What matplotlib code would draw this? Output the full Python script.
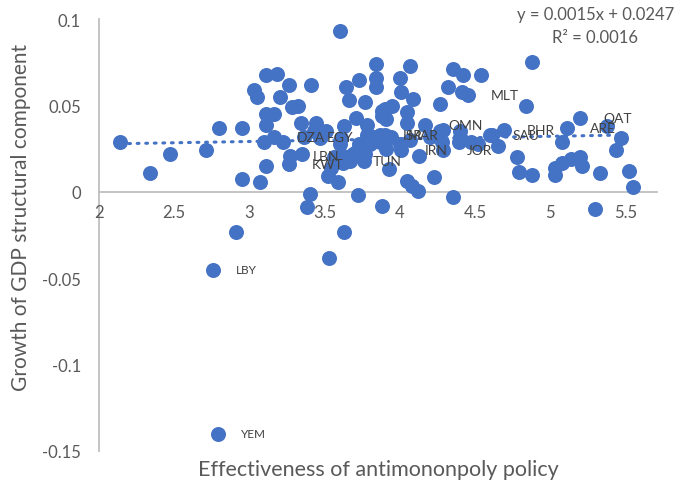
import matplotlib
matplotlib.use("Agg")

import numpy as np
import matplotlib.pyplot as plt

# unlabeled country points: effectiveness of antimonopoly policy vs growth of GDP structural component
px = [2.14, 2.34, 2.47, 2.71, 2.80, 2.95, 2.95, 3.07, 3.11, 2.91,
      3.03, 3.05, 3.11, 3.18, 3.26, 3.20, 3.11, 3.16, 3.11, 3.10,
      3.22, 3.35, 3.28, 3.32, 3.34, 3.44, 3.41, 3.51, 3.63, 3.40,
      3.38, 3.63, 3.72, 3.53, 3.52, 3.59, 3.54, 3.62, 3.71, 3.77,
      3.71, 3.77, 3.66, 3.64, 3.73, 3.84, 3.84, 3.84, 3.78, 3.81,
      3.60, 3.88, 4.07, 4.00, 4.01, 4.09, 3.95, 3.90, 4.05, 3.88,
      3.91, 4.05, 4.35, 4.42, 4.54, 4.32, 4.41, 4.27, 4.29, 4.40,
      4.61, 4.88, 4.84, 5.38, 4.78, 4.79, 4.88, 5.08, 5.03, 5.03,
      5.08, 5.14, 5.20, 5.21, 5.33, 5.30, 5.47, 5.44, 5.52, 5.55,
      3.93, 4.05, 4.08, 4.12, 4.23, 4.35, 3.88, 4.13, 4.40, 4.47,
      4.52, 4.65, 4.20, 4.27, 3.82, 3.87, 3.91, 4.00, 3.94, 4.07,
      3.80, 3.61, 3.60, 3.56, 3.62, 3.69, 3.73, 3.78, 3.76, 3.47,
      3.43, 4.28, 4.39]
py = [0.029, 0.011, 0.022, 0.024, 0.037, 0.037, 0.0075, 0.006, 0.015, -0.023,
      0.059, 0.055, 0.0675, 0.068, 0.062, 0.055, 0.045, 0.045, 0.039, 0.029,
      0.029, 0.022, 0.049, 0.050, 0.040, 0.040, 0.062, 0.035, 0.038, -0.001,
      -0.009, -0.023, -0.002, -0.038, 0.009, 0.006, 0.014, 0.017, 0.023, 0.022,
      0.043, 0.052, 0.053, 0.061, 0.065, 0.074, 0.066, 0.061, 0.039, 0.030,
      0.093, 0.047, 0.073, 0.066, 0.058, 0.054, 0.050, 0.048, 0.046, 0.044,
      0.042, 0.040, 0.071, 0.0675, 0.0675, 0.061, 0.058, 0.051, 0.036, 0.035,
      0.033, 0.0755, 0.050, 0.038, 0.020, 0.0115, 0.010, 0.029, 0.014, 0.010,
      0.017, 0.019, 0.020, 0.015, 0.011, -0.010, 0.031, 0.024, 0.012, 0.003,
      0.013, 0.0065, 0.0035, 0.0006, 0.0087, -0.003, -0.008, 0.021, 0.032, 0.029,
      0.028, 0.0265, 0.032, 0.035, 0.032, 0.029, 0.025, 0.028, 0.032, 0.030,
      0.028, 0.031, 0.028, 0.020, 0.021, 0.022, 0.028, 0.033, 0.018, 0.031,
      0.035, 0.029, 0.029]

# labeled countries
countries = ['DZA', 'EGY', 'LBN', 'KWT', 'TUN', 'ISR', 'MAR', 'IRN', 'OMN',
             'JOR', 'SAU', 'BHR', 'MLT', 'ARE', 'QAT', 'LBY', 'YEM']
cx = [3.16, 3.36, 3.27, 3.26, 3.67, 3.87, 3.90, 4.01, 4.17,
      4.29, 4.60, 4.69, 4.45, 5.11, 5.20, 2.76, 2.79]
cy = [0.032, 0.032, 0.021, 0.016, 0.018, 0.033, 0.033, 0.024, 0.039,
      0.024, 0.033, 0.036, 0.056, 0.037, 0.043, -0.045, -0.140]

# linear trendline as reported
slope, intercept, r2 = 0.0015, 0.0247, 0.0016

blue = '#4472C4'
grey = '#595959'
plt.rcParams['font.family'] = ['Lato', 'DejaVu Sans']

fig = plt.figure(figsize=(6.89, 4.89), dpi=100)
ax = fig.add_axes([0.1437, 0.0757, 0.81, 0.883])

allx = np.array(px + cx)
tx = np.array([allx.min(), allx.max()])
ax.plot(tx, slope * tx + intercept, color=blue, lw=2.2,
        linestyle=(0, (0.6, 2.2)), dash_capstyle='round', zorder=1)

ax.plot(px, py, 'o', color=blue, ms=10.8, mec='none', zorder=2)
ax.plot(cx, cy, 'o', color=blue, ms=10.8, mec='none', zorder=2)

for name, x, y in zip(countries, cx, cy):
    fs = 8.5 if name in ('LBY', 'YEM') else 10
    ax.annotate(name, (x, y), xytext=(16.5, 0), textcoords='offset points',
                ha='left', va='center', fontsize=fs, color='#404040', zorder=3)

ax.set_xlim(2, 5.71)
ax.set_ylim(-0.15, 0.1)
ax.set_xticks([2, 2.5, 3, 3.5, 4, 4.5, 5, 5.5])
ax.set_xticklabels(['2', '2.5', '3', '3.5', '4', '4.5', '5', '5.5'])
ax.set_yticks([-0.15, -0.1, -0.05, 0, 0.05, 0.1])
ax.set_yticklabels(['-0.15', '-0.1', '-0.05', '0', '0.05', '0.1'])

ax.spines['top'].set_visible(False)
ax.spines['right'].set_visible(False)
ax.spines['bottom'].set_position(('data', 0))
for s in ('left', 'bottom'):
    ax.spines[s].set_color('#BFBFBF')
    ax.spines[s].set_linewidth(1.3)
    ax.spines[s].set_zorder(0.5)
ax.tick_params(axis='x', length=0, pad=8.5, labelsize=12, labelcolor=grey)
ax.tick_params(axis='y', length=0, pad=13, labelsize=12, labelcolor=grey)

fig.text(0.03, 0.555, 'Growth of GDP structural component', rotation=90,
         ha='center', va='center', fontsize=15, color=grey)
fig.text(0.549, 0.039, 'Effectiveness of antimononpoly policy',
         ha='center', va='center', fontsize=15.5, color=grey)

fig.text(0.864, 0.969, 'y = 0.0015x + 0.0247', ha='center', va='center',
         fontsize=12, color=grey)
fig.text(0.864, 0.922, 'R² = 0.0016', ha='center', va='center',
         fontsize=12, color=grey)

fig.savefig('out.png', dpi=100)
